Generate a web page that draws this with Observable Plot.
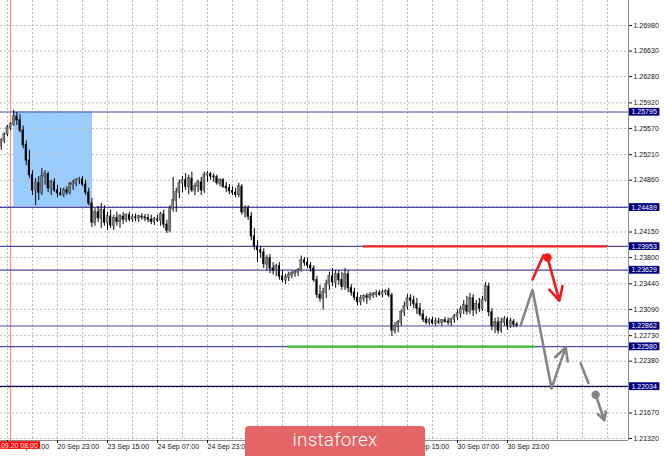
<!DOCTYPE html>
<html><head><meta charset="utf-8">
<script src="https://cdn.jsdelivr.net/npm/d3@7"></script>
<script src="https://cdn.jsdelivr.net/npm/@observablehq/plot@0.6"></script>
<style>
body{margin:0;background:#fff;}
#wrap{position:relative;width:665px;height:456px;overflow:hidden;}
#wm{position:absolute;left:245px;top:426px;width:180px;height:36px;background:#e36565;border-radius:4px;color:#fff;font:300 19px Roboto,'Open Sans',sans-serif;text-align:center;line-height:28px;letter-spacing:0.2px;}
</style></head><body><div id="wrap"><div id="wm">instaforex</div></div>
<script>
// H1 bars, index 0 = 20 Sep 07:00
const firstBar = -2;
const open = [
1.2534,1.2540,1.2549,1.2558,1.2562,1.2573,1.2568,1.2554,
1.2534,1.2513,1.2493,1.2472,1.2482,1.2469,1.2491,1.2494,
1.2475,1.2483,1.2472,1.2468,1.2466,1.2472,1.2469,1.2480,
1.2482,1.2486,1.2487,1.2480,1.2469,1.2454,1.2428,1.2442,
1.2434,1.2445,1.2428,1.2436,1.2424,1.2434,1.2429,1.2436,
1.2432,1.2438,1.2432,1.2435,1.2434,1.2436,1.2435,1.2434,
1.2432,1.2429,1.2432,1.2431,1.2439,1.2425,1.2417,1.2447,
1.2458,1.2469,1.2482,1.2486,1.2477,1.2488,1.2472,1.2477,
1.2483,1.2472,1.2493,1.2494,1.2491,1.2490,1.2482,1.2486,
1.2477,1.2475,1.2471,1.2469,1.2466,1.2477,1.2442,1.2447,
1.2436,1.2409,1.2395,1.2390,1.2387,1.2371,1.2379,1.2365,
1.2362,1.2368,1.2354,1.2349,1.2353,1.2356,1.2358,1.2360,
1.2362,1.2376,1.2373,1.2369,1.2365,1.2349,1.2329,1.2324,
1.2332,1.2343,1.2354,1.2346,1.2357,1.2349,1.2340,1.2357,
1.2338,1.2332,1.2325,1.2319,1.2324,1.2327,1.2325,1.2328,
1.2329,1.2331,1.2329,1.2332,1.2334,1.2328,1.2280,1.2286,
1.2291,1.2305,1.2313,1.2324,1.2321,1.2316,1.2310,1.2302,
1.2295,1.2291,1.2294,1.2290,1.2292,1.2291,1.2294,1.2292,
1.2291,1.2295,1.2299,1.2303,1.2309,1.2314,1.2306,1.2324,
1.2308,1.2316,1.2310,1.2321,1.2340,1.2305,1.2286,1.2291,
1.2280,1.2291,1.2295,1.2286,1.2292,1.2288];
const high = [
1.2543,1.2551,1.2561,1.2565,1.2582,1.2579,1.2576,1.2560,
1.2540,1.2527,1.2499,1.2488,1.2491,1.2502,1.2499,1.2497,
1.2486,1.2488,1.2479,1.2475,1.2475,1.2477,1.2483,1.2486,
1.2488,1.2490,1.2491,1.2486,1.2475,1.2461,1.2447,1.2450,
1.2454,1.2451,1.2442,1.2445,1.2438,1.2442,1.2439,1.2442,
1.2440,1.2442,1.2439,1.2440,1.2438,1.2440,1.2439,1.2439,
1.2438,1.2435,1.2438,1.2442,1.2445,1.2431,1.2451,1.2490,
1.2475,1.2486,1.2491,1.2495,1.2493,1.2497,1.2482,1.2486,
1.2490,1.2497,1.2498,1.2497,1.2495,1.2493,1.2488,1.2488,
1.2483,1.2480,1.2477,1.2475,1.2482,1.2480,1.2451,1.2451,
1.2442,1.2420,1.2403,1.2395,1.2392,1.2383,1.2384,1.2373,
1.2371,1.2373,1.2362,1.2357,1.2360,1.2361,1.2362,1.2365,
1.2382,1.2380,1.2379,1.2373,1.2369,1.2354,1.2342,1.2338,
1.2349,1.2360,1.2365,1.2362,1.2362,1.2360,1.2365,1.2362,
1.2343,1.2338,1.2332,1.2328,1.2329,1.2331,1.2332,1.2332,
1.2335,1.2335,1.2335,1.2336,1.2338,1.2331,1.2291,1.2294,
1.2308,1.2319,1.2329,1.2329,1.2327,1.2324,1.2317,1.2308,
1.2299,1.2297,1.2298,1.2297,1.2297,1.2295,1.2298,1.2297,
1.2297,1.2302,1.2308,1.2313,1.2321,1.2327,1.2331,1.2329,
1.2321,1.2324,1.2327,1.2346,1.2345,1.2310,1.2297,1.2298,
1.2297,1.2299,1.2298,1.2297,1.2295,1.2291];
const low = [
1.2527,1.2536,1.2546,1.2554,1.2560,1.2561,1.2551,1.2529,
1.2506,1.2488,1.2465,1.2451,1.2458,1.2465,1.2479,1.2469,
1.2465,1.2469,1.2462,1.2464,1.2462,1.2465,1.2466,1.2472,
1.2477,1.2480,1.2477,1.2465,1.2451,1.2421,1.2423,1.2428,
1.2420,1.2423,1.2417,1.2420,1.2417,1.2423,1.2420,1.2425,
1.2428,1.2429,1.2428,1.2429,1.2428,1.2431,1.2429,1.2428,
1.2425,1.2424,1.2428,1.2423,1.2420,1.2413,1.2414,1.2442,
1.2442,1.2461,1.2469,1.2472,1.2466,1.2469,1.2465,1.2469,
1.2465,1.2468,1.2483,1.2486,1.2483,1.2479,1.2477,1.2475,
1.2469,1.2466,1.2465,1.2462,1.2462,1.2438,1.2434,1.2431,
1.2403,1.2390,1.2373,1.2379,1.2365,1.2362,1.2358,1.2356,
1.2354,1.2349,1.2345,1.2343,1.2347,1.2351,1.2353,1.2354,
1.2360,1.2368,1.2365,1.2360,1.2346,1.2324,1.2319,1.2308,
1.2324,1.2335,1.2340,1.2338,1.2342,1.2335,1.2335,1.2332,
1.2327,1.2321,1.2314,1.2314,1.2319,1.2316,1.2321,1.2324,
1.2325,1.2327,1.2325,1.2328,1.2325,1.2272,1.2275,1.2277,
1.2286,1.2299,1.2308,1.2313,1.2310,1.2302,1.2299,1.2291,
1.2288,1.2287,1.2288,1.2286,1.2288,1.2286,1.2290,1.2287,
1.2286,1.2290,1.2294,1.2297,1.2302,1.2301,1.2302,1.2299,
1.2302,1.2305,1.2306,1.2319,1.2299,1.2280,1.2276,1.2275,
1.2276,1.2286,1.2280,1.2283,1.2284,1.2284];
const close = [
1.2540,1.2549,1.2558,1.2562,1.2573,1.2568,1.2554,1.2534,
1.2513,1.2493,1.2472,1.2482,1.2469,1.2491,1.2494,1.2475,
1.2483,1.2472,1.2468,1.2466,1.2472,1.2469,1.2480,1.2482,
1.2486,1.2487,1.2480,1.2469,1.2454,1.2428,1.2442,1.2434,
1.2445,1.2428,1.2436,1.2424,1.2434,1.2429,1.2436,1.2432,
1.2438,1.2432,1.2435,1.2434,1.2436,1.2435,1.2434,1.2432,
1.2429,1.2432,1.2431,1.2439,1.2425,1.2417,1.2447,1.2458,
1.2469,1.2482,1.2486,1.2477,1.2488,1.2472,1.2477,1.2483,
1.2472,1.2493,1.2494,1.2491,1.2490,1.2482,1.2486,1.2477,
1.2475,1.2471,1.2469,1.2466,1.2477,1.2442,1.2447,1.2436,
1.2409,1.2395,1.2390,1.2387,1.2371,1.2379,1.2365,1.2362,
1.2368,1.2354,1.2349,1.2353,1.2356,1.2358,1.2360,1.2362,
1.2376,1.2373,1.2369,1.2365,1.2349,1.2329,1.2324,1.2332,
1.2343,1.2354,1.2346,1.2357,1.2349,1.2340,1.2357,1.2338,
1.2332,1.2325,1.2319,1.2324,1.2327,1.2325,1.2328,1.2329,
1.2331,1.2329,1.2332,1.2334,1.2328,1.2280,1.2286,1.2291,
1.2305,1.2313,1.2324,1.2321,1.2316,1.2310,1.2302,1.2295,
1.2291,1.2294,1.2290,1.2292,1.2291,1.2294,1.2292,1.2291,
1.2295,1.2299,1.2303,1.2309,1.2314,1.2306,1.2324,1.2308,
1.2316,1.2310,1.2321,1.2340,1.2305,1.2286,1.2291,1.2280,
1.2291,1.2295,1.2286,1.2292,1.2288,1.2287];

// axis ticks (grid at all; labels only where not hidden by level tags)
const yGrid = [1.26980,1.26630,1.26280,1.25920,1.25570,1.25210,1.24860,1.24500,1.24150,1.23800,1.23440,1.23090,1.22730,1.22380,1.22020,1.21670,1.21320];
const yTickLabels = [1.26980,1.26630,1.26280,1.25920,1.25570,1.25210,1.24860,1.24150,1.23800,1.23440,1.23090,1.22730,1.22380,1.21670,1.21320];
const labelBars = [0,16,32,48,64,80,96,112,128,144,160];
const timeLabels = ["20 Sep 07:00","20 Sep 23:00","23 Sep 15:00","24 Sep 07:00","24 Sep 23:00","25 Sep 15:00","26 Sep 07:00","26 Sep 23:00","27 Sep 15:00","30 Sep 07:00","30 Sep 23:00"];
const cursorBar = 1;
const cursorLabel = "2019.09.20 08:00";

// horizontal levels
const levels = [1.25795,1.24489,1.23953,1.23629,1.22862,1.22580];
const keyLevel = [1.22034];
// zone box
const boxBars = [2, 27.2];
const boxPrices = [1.24489, 1.25795];
// segments
const redSegBars = [113.9, 192];
const redSegPrice = 1.23953;
const greenSegBars = [89.6, 169];
const greenSegPrice = 1.22580;
// forecast paths
const grayPathBars = [164.2, 168, 174.1, 178.6];
const grayPathPrices = [1.2287, 1.2336, 1.2201, 1.2257];
const grayDashBars = [183.4, 185.9];
const grayDashPrices = [1.2235, 1.2208];
const grayDotBar = 188.2, grayDotPrice = 1.2192;
const grayEndBar = 191.0, grayEndPrice = 1.2157;
const redPathBars = [168, 171.5];
const redPathPrices = [1.2350, 1.2383];
const redDotBar = 172.8, redDotPrice = 1.2380;
const redEndBar = 176.6, redEndPrice = 1.2321;

const bars = close.map((c, k) => ({bar: firstBar + k, open: open[k], high: high[k], low: low[k], close: c}));
const grayPath = grayPathBars.map((b, k) => ({b, p: grayPathPrices[k]}));
const xDomain = [-2.24, 198.72];
const yDomain = [1.21293, 1.27323];
const gridBars = d3.range(0, 193, 8);

const lvlColor = "#4a4aa8";
const chart = Plot.plot({
  width: 665, height: 456,
  marginTop: 0, marginLeft: 0, marginRight: 37, marginBottom: 16,
  x: {domain: xDomain},
  y: {domain: yDomain},
  style: {fontFamily: "'Liberation Sans', Arial, sans-serif", fontSize: "7px", color: "#111", background: "#fff", overflow: "visible"},
  marks: [
    Plot.rect([0], {x1: () => boxBars[0], x2: () => boxBars[1], y1: () => boxPrices[0], y2: () => boxPrices[1], fill: "#99ccff"}),
    Plot.ruleY(yGrid, {stroke: "#bcbcbc", strokeDasharray: "2,2"}),
    Plot.ruleX(gridBars, {stroke: "#bcbcbc", strokeDasharray: "2,2"}),
    Plot.ruleX([cursorBar], {stroke: "#ff7a7a", strokeWidth: 1}),
    Plot.ruleY(levels, {stroke: lvlColor, strokeWidth: 1.2}),
    Plot.ruleY(keyLevel, {stroke: "#101050", strokeWidth: 1.2}),
    Plot.ruleY([redSegPrice], {x1: () => redSegBars[0], x2: () => redSegBars[1], stroke: "#ee2222", strokeWidth: 2.2}),
    Plot.ruleY([greenSegPrice], {x1: () => greenSegBars[0], x2: () => greenSegBars[1], stroke: "#33c133", strokeWidth: 2.2}),
    // candles
    Plot.ruleX(bars, {x: "bar", y1: "low", y2: "high", stroke: "#000", strokeWidth: 1}),
    Plot.rect(bars.filter(d => d.close >= d.open), {x1: d => d.bar - 0.33, x2: d => d.bar + 0.33, y1: "open", y2: "close", fill: "#7c7c7c", stroke: "#333", strokeWidth: 0.4, insetTop: -0.5, insetBottom: -0.5}),
    Plot.rect(bars.filter(d => d.close < d.open), {x1: d => d.bar - 0.33, x2: d => d.bar + 0.33, y1: "open", y2: "close", fill: "#000", insetTop: -0.5, insetBottom: -0.5}),
    // forecast: gray
    Plot.line(grayPath.slice(0, 3), {x: "b", y: "p", stroke: "#858585", strokeWidth: 2.6, strokeLinejoin: "miter"}),
    Plot.arrow([0], {x1: () => grayPathBars[2], y1: () => grayPathPrices[2], x2: () => grayPathBars[3], y2: () => grayPathPrices[3], stroke: "#858585", strokeWidth: 2.6, headLength: 11, headAngle: 55}),
    Plot.line(grayDashBars.map((b, k) => ({b, p: grayDashPrices[k]})), {x: "b", y: "p", stroke: "#858585", strokeWidth: 2.6}),
    Plot.dot([0], {x: () => grayDotBar, y: () => grayDotPrice, r: 4.2, fill: "#858585"}),
    Plot.arrow([0], {x1: () => grayDotBar, y1: () => grayDotPrice, x2: () => grayEndBar, y2: () => grayEndPrice, stroke: "#858585", strokeWidth: 2.6, headLength: 11, headAngle: 55}),
    // forecast: red
    Plot.line(redPathBars.map((b, k) => ({b, p: redPathPrices[k]})).concat([{b: redDotBar, p: redDotPrice}]), {x: "b", y: "p", stroke: "#ee1c1c", strokeWidth: 2.6}),
    Plot.dot([0], {x: () => redDotBar, y: () => redDotPrice, r: 4.2, fill: "#ee1c1c"}),
    Plot.arrow([0], {x1: () => redDotBar, y1: () => redDotPrice, x2: () => redEndBar, y2: () => redEndPrice, stroke: "#ee1c1c", strokeWidth: 2.6, headLength: 11, headAngle: 55}),
    // frame right & bottom
    Plot.ruleX([xDomain[1]], {stroke: "#8a8a8a"}),
    Plot.ruleY([yDomain[0]], {stroke: "#8a8a8a"}),
    // axes
    Plot.axisY(yTickLabels, {anchor: "right", tickSize: 3, tickPadding: 2, tickFormat: d3.format(".5f"), label: null, fill: "#111", fontSize: 7}),
    Plot.axisX(labelBars, {anchor: "bottom", tickSize: 3, tickPadding: 1, textAnchor: "start", tickFormat: d => timeLabels[labelBars.indexOf(d)], label: null, fill: "#111", fontSize: 7}),
    // level labels
    Plot.text(levels.concat(keyLevel), {y: d => d, frameAnchor: "right", dx: 3, textAnchor: "start", text: d => d.toFixed(5), fill: "#fff", fontSize: 7, className: "lvl"}),
    Plot.text([cursorBar], {x: d => d, frameAnchor: "bottom", dy: 7, text: () => cursorLabel, fill: "#fff", fontSize: 7, className: "tlab"})
  ]
});
const wrap = document.getElementById("wrap");
wrap.insertBefore(chart, wrap.firstChild);

// draw a solid background box behind label texts (same transform as the text)
function addBg(sel, color, padX, padY) {
  d3.select(chart).selectAll(sel).each(function() {
    const b = this.getBBox();
    const r = document.createElementNS("http://www.w3.org/2000/svg", "rect");
    r.setAttribute("x", b.x - padX);
    r.setAttribute("width", b.width + 2 * padX);
    r.setAttribute("y", b.y - padY);
    r.setAttribute("height", b.height + 2 * padY);
    r.setAttribute("fill", color);
    const t = this.getAttribute("transform");
    if (t) r.setAttribute("transform", t);
    this.parentNode.insertBefore(r, this);
  });
}
addBg("g.lvl text", "#000080", 2.5, 0.4);
addBg("g.tlab text", "#ff0000", 2, 0.3);
</script></body></html>
